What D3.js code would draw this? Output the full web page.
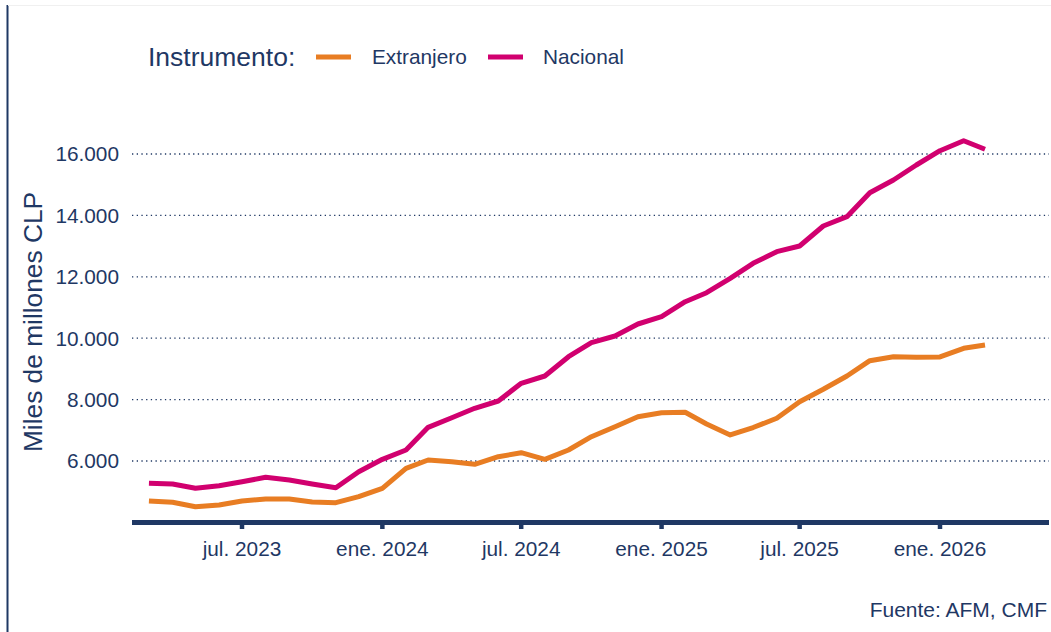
<!DOCTYPE html>
<html><head><meta charset="utf-8">
<script src="https://cdn.jsdelivr.net/npm/d3@7"></script>
<style>
html,body{margin:0;padding:0;background:#fff;}
svg{display:block;font-family:"Liberation Sans",Arial,sans-serif;}
</style></head>
<body><svg id="c" width="1051" height="632"></svg>
<script>
const months = ["2023-03","2023-04","2023-05","2023-06","2023-07","2023-08","2023-09","2023-10","2023-11","2023-12",
"2024-01","2024-02","2024-03","2024-04","2024-05","2024-06","2024-07","2024-08","2024-09","2024-10","2024-11","2024-12",
"2025-01","2025-02","2025-03","2025-04","2025-05","2025-06","2025-07","2025-08","2025-09","2025-10","2025-11","2025-12",
"2026-01","2026-02","2026-03"];
const extranjero = [4697,4655,4512,4567,4697,4762,4762,4664,4642,4837,
5110,5762,6033,5977,5891,6140,6270,6055,6358,6792,7117,7443,
7573,7586,7205,6847,7090,7391,7932,8336,8769,9267,9397,9380,
9390,9671,9779];
const nacional = [5274,5250,5110,5196,5326,5469,5381,5250,5130,5652,
6055,6358,7097,7410,7717,7954,8531,8769,9397,9853,10072,10463,
10700,11189,11482,11951,12440,12818,13003,13655,13958,14739,15153,15642,
16107,16433,16153];
const seriesNames = ["Extranjero","Nacional"];
const seriesColors = ["#e87d23","#d1006f"];
const yTicks = [6000,8000,10000,12000,14000,16000];
const xTickDates = ["2023-07","2024-01","2024-07","2025-01","2025-07","2026-01"];
const xTickLabels = ["jul. 2023","ene. 2024","jul. 2024","ene. 2025","jul. 2025","ene. 2026"];
const legendTitle = "Instrumento:";
const yTitle = "Miles de millones CLP";
const source = "Fuente: AFM, CMF";

const navy = "#1f3864";
const parse = d3.utcParse("%Y-%m");
const svg = d3.select("#c");
const loc = d3.formatLocale({decimal:",",thousands:".",grouping:[3],currency:["$",""]});
const fmt = loc.format(",d");

const x = d3.scaleUtc().domain([parse("2023-07"), parse("2026-01")]).range([242, 940]);
const y = d3.scaleLinear().domain([6000, 16000]).range([461, 154]);
const plotL = 132, plotR = 1049, axisY = 522.5;

// frame
svg.append("line").attr("x1",7.5).attr("x2",7.5).attr("y1",5).attr("y2",632).attr("stroke",navy).attr("stroke-width",2);
svg.append("line").attr("x1",8).attr("x2",1051).attr("y1",5.5).attr("y2",5.5).attr("stroke","#f0f0f0").attr("stroke-width",1);

// grid
svg.append("g").selectAll("line").data(yTicks).join("line")
  .attr("x1",plotL).attr("x2",plotR)
  .attr("y1",d=>y(d)).attr("y2",d=>y(d))
  .attr("stroke",navy).attr("stroke-width",1.3).attr("stroke-dasharray","1.3,3.4");

// y labels
svg.append("g").selectAll("text").data(yTicks).join("text")
  .attr("x",119).attr("y",d=>y(d)).attr("dy","0.36em")
  .attr("text-anchor","end").attr("font-size",20.8).attr("fill",navy).text(d=>fmt(d));

// y title
svg.append("text").attr("transform","translate(42,322) rotate(-90)")
  .attr("text-anchor","middle").attr("font-size",26.3).attr("fill",navy).text(yTitle);

// lines
const data = [extranjero, nacional];
const line = d3.line().x((d,i)=>x(parse(months[i]))).y(d=>y(d));
svg.append("g").selectAll("path").data(data).join("path")
  .attr("d",line).attr("fill","none")
  .attr("stroke",(d,i)=>seriesColors[i]).attr("stroke-width",5)
  .attr("stroke-linejoin","round").attr("stroke-linecap","butt");

// x axis
svg.append("line").attr("x1",plotL).attr("x2",plotR).attr("y1",axisY).attr("y2",axisY)
  .attr("stroke",navy).attr("stroke-width",5);
const xt = svg.append("g");
xt.selectAll("line").data(xTickDates).join("line")
  .attr("x1",d=>x(parse(d))).attr("x2",d=>x(parse(d)))
  .attr("y1",axisY).attr("y2",529).attr("stroke",navy).attr("stroke-width",4.5);
xt.selectAll("text").data(xTickDates).join("text")
  .attr("x",d=>x(parse(d))).attr("y",556)
  .attr("text-anchor","middle").attr("font-size",20.8).attr("fill",navy)
  .text((d,i)=>xTickLabels[i]);

// legend
const lg = svg.append("g");
lg.append("text").attr("x",148).attr("y",66).attr("font-size",26.5).attr("fill",navy).text(legendTitle);
const keyX = [316, 488], labX = [372, 543];
seriesNames.forEach((n,i)=>{
  lg.append("line").attr("x1",keyX[i]).attr("x2",keyX[i]+35).attr("y1",57).attr("y2",57)
    .attr("stroke",seriesColors[i]).attr("stroke-width",5);
  lg.append("text").attr("x",labX[i]).attr("y",64).attr("font-size",20.8).attr("fill",navy).text(n);
});

// source
svg.append("text").attr("x",1047).attr("y",617).attr("text-anchor","end")
  .attr("font-size",21).attr("fill",navy).text(source);
</script></body></html>
